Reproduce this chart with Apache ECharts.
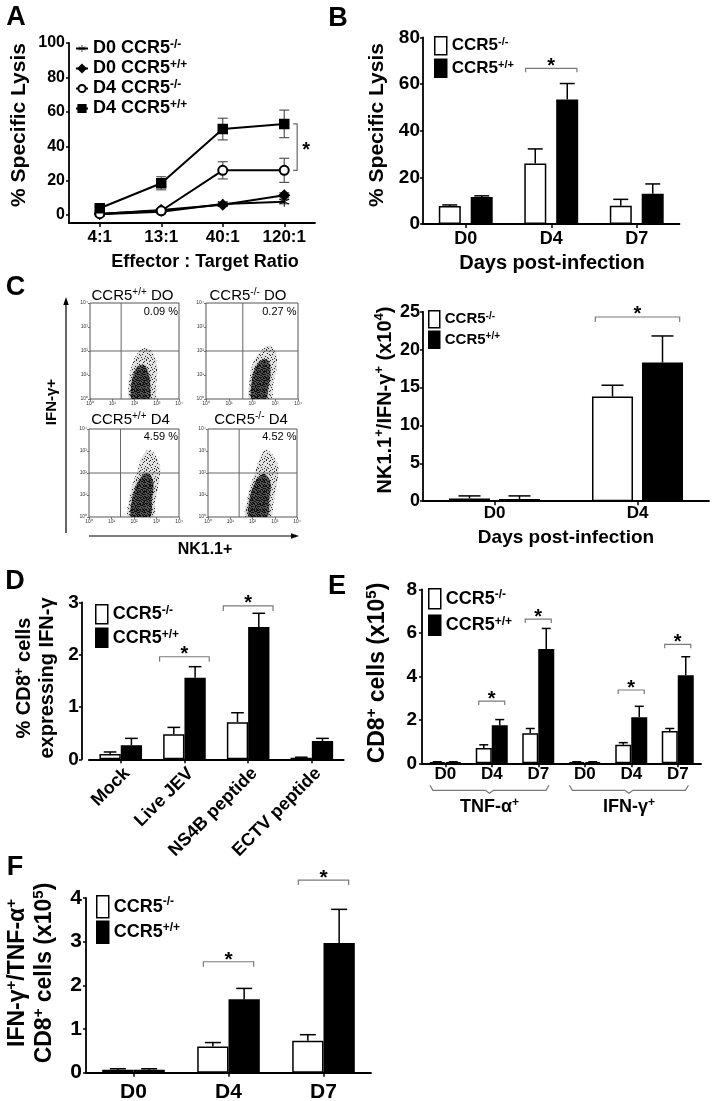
<!DOCTYPE html>
<html><head><meta charset="utf-8">
<script src="https://cdn.jsdelivr.net/npm/echarts@6/dist/echarts.min.js"></script>
<style>html,body{margin:0;padding:0;background:#fff}#c{width:712px;height:1101px}</style>
</head><body><div id="c"></div>
<script>
const FONT = "'Liberation Sans', Arial, Helvetica, sans-serif";

// ---------------- Panel A ----------------
const ratioCats = ['4:1', '13:1', '40:1', '120:1'];
const aNames = ['D0 CCR5^{-/-}', 'D0 CCR5^{+/+}', 'D4 CCR5^{-/-}', 'D4 CCR5^{+/+}'];
const aD0KO = [0.5, 2.0, 6.5, 7.8];
const aD0KOErr = [0.3, 0.6, 1.0, 1.2];
const aD0WT = [0.6, 3.0, 6.0, 11.5];
const aD0WTErr = [0.3, 0.8, 1.0, 1.5];
const aD4KO = [0.8, 2.5, 26.0, 26.0];
const aD4KOErr = [0.5, 1.0, 5.0, 7.0];
const aD4WT = [4.0, 18.5, 50.0, 53.0];
const aD4WTErr = [1.5, 3.8, 6.3, 8.0];
const aYTicks = [0, 20, 40, 60, 80, 100];
const aSig = [[3, 26, 53]];

// ---------------- Panel B ----------------
const dayCatsB = ['D0', 'D4', 'D7'];
const bKO = [7.8, 26.0, 7.9];
const bKOErr = [0.4, 6.2, 2.7];
const bWT = [11.6, 53.4, 13.0];
const bWTErr = [0.5, 6.8, 4.2];
const bSig = [[1, 66.7]];

// ---------------- Panel C (flow) ----------------
const flowTitles = ['CCR5^{+/+} DO', 'CCR5^{-/-} DO', 'CCR5^{+/+} D4', 'CCR5^{-/-} D4'];
const flowPct = ['0.09 %', '0.27 %', '4.59 %', '4.52 %'];
const flowGateX = [1.4, 1.6, 1.4, 1.4];
const flowGateY = [2, 2, 2, 2];
const flowOuter = [
  [[1.8,0],[1.72,0.5],[1.78,1.0],[1.9,1.45],[2.1,1.85],[2.4,2.12],[2.7,2.05],[2.95,1.7],[3.02,1.2],[2.97,0.6],[2.9,0]],
  [[1.9,0],[1.88,0.6],[1.95,1.2],[2.15,1.7],[2.5,2.1],[2.8,2.22],[3.05,1.9],[3.07,1.3],[2.92,0.6],[2.82,0]],
  [[1.75,0],[1.78,0.8],[1.95,1.5],[2.15,2.1],[2.35,2.7],[2.6,3.05],[2.9,2.9],[3.15,2.3],[3.1,1.5],[2.95,0.7],[2.85,0]],
  [[1.7,0],[1.75,0.7],[1.9,1.4],[2.1,2.0],[2.3,2.6],[2.55,3.05],[2.85,2.9],[3.15,2.3],[3.1,1.5],[2.95,0.7],[2.8,0]]
];
const flowCore = [
  [[1.9,0],[1.85,0.5],[1.95,1.0],[2.15,1.35],[2.45,1.4],[2.65,1.0],[2.7,0.5],[2.65,0]],
  [[2.0,0],[1.98,0.6],[2.1,1.2],[2.4,1.6],[2.7,1.6],[2.8,1.1],[2.7,0.4],[2.6,0]],
  [[1.9,0],[1.9,0.7],[2.05,1.3],[2.3,1.8],[2.6,2.0],[2.85,1.6],[2.8,0.8],[2.7,0]],
  [[1.85,0],[1.85,0.7],[2.0,1.3],[2.25,1.8],[2.55,1.95],[2.8,1.55],[2.75,0.8],[2.65,0]]
];

// ---------------- Panel C (bars) ----------------
const dayCatsC = ['D0', 'D4'];
const cKO = [0.35, 13.8];
const cKOErr = [0.35, 1.5];
const cWT = [0.3, 18.3];
const cWTErr = [0.4, 3.5];
const cSig = [[1, 24.3]];

// ---------------- Panel D ----------------
const stimCats = ['Mock', 'Live JEV', 'NS4B peptide', 'ECTV peptide'];
const dKO = [0.10, 0.48, 0.71, 0.03];
const dKOErr = [0.04, 0.13, 0.18, 0.01];
const dWT = [0.27, 1.56, 2.53, 0.35];
const dWTErr = [0.13, 0.21, 0.26, 0.05];
const dSig = [[1, 1.96], [2, 2.93]];

// ---------------- Panel E ----------------
const eCats = ['D0', 'D4', 'D7', 'D0', 'D4', 'D7'];
const eGroups = [['TNF-α^{+}', 0, 2], ['IFN-γ^{+}', 3, 5]];
const eKO = [0.05, 0.70, 1.38, 0.05, 0.85, 1.48];
const eKOErr = [0.02, 0.15, 0.22, 0.02, 0.10, 0.12];
const eWT = [0.05, 1.75, 5.25, 0.05, 2.12, 4.05];
const eWTErr = [0.02, 0.26, 0.95, 0.02, 0.50, 0.85];
const eSig = [[1, 2.86], [2, 6.63], [4, 3.37], [5, 5.47]];

// ---------------- Panel F ----------------
const fCats = ['D0', 'D4', 'D7'];
const fKO = [0.07, 0.60, 0.73];
const fKOErr = [0.02, 0.09, 0.14];
const fWT = [0.07, 1.68, 2.97];
const fWTErr = [0.02, 0.25, 0.77];
const fSig = [[1, 2.54], [2, 4.41]];

const KO = 'CCR5^{-/-}', WT = 'CCR5^{+/+}';

// ---------------- helpers ----------------
function rt(str) {
  return str.split('\n').map(line =>
    line.split(/(\^\{[^}]*\})/).filter(p => p.length).map(p =>
      p.startsWith('^{') ? '{s|' + p.slice(2, -1) + '}' : '{b|' + p + '}').join('')
  ).join('\n');
}
function richSet(size, weight, lh) {
  weight = weight || 'bold';
  const s = Math.round(size * 0.64);
  return {
    b: {fontSize: size, fontWeight: weight, fontFamily: FONT, color: '#000', fill: '#000', lineHeight: lh || Math.round(size * 1.2), verticalAlign: 'middle'},
    s: {fontSize: s, fontWeight: weight, fontFamily: FONT, color: '#000', fill: '#000', lineHeight: s, verticalAlign: 'top'}
  };
}
const SUPD = ['⁰', '¹', '²', '³', '⁴'];

// deterministic speckle textures for the flow-cytometry clouds
function speckle(color, pts, size) {
  const c = document.createElement('canvas');
  c.width = c.height = size;
  const ctx = c.getContext('2d');
  ctx.fillStyle = color;
  pts.forEach(p => ctx.fillRect(p[0], p[1], 1, 1));
  return {image: c, repeat: 'repeat'};
}
const SPK_LIGHT = speckle('#222', [[0,0],[4,1],[7,3],[2,4],[5,6],[1,7],[6,0],[3,2],[8,8],[0,5],[7,7],[4,8],[2,9],[9,4],[6,9],[9,1]], 10);
const SPK_DENSE = speckle('#000', [[0,0],[2,0],[4,1],[1,2],[3,3],[5,2],[0,4],[2,5],[4,4],[5,5],[1,5],[3,1],[5,0],[0,2]], 6);

function errSeries(gi, vals, errs, offsetPx, capW, both, color, lw) {
  return {
    type: 'custom', xAxisIndex: gi, yAxisIndex: gi, z: both ? 1 : 5, silent: true, clip: false,
    data: vals.map((v, i) => [i, v, errs[i]]),
    encode: {x: 0, y: 1},
    renderItem(params, api) {
      const i = api.value(0), v = api.value(1), e = api.value(2);
      const p = api.coord([i, v]);
      const top = api.coord([i, v + e]);
      const x = p[0] + offsetPx;
      const st = {stroke: color, lineWidth: lw};
      const ch = [
        {type: 'line', shape: {x1: x, y1: p[1], x2: x, y2: top[1]}, style: st},
        {type: 'line', shape: {x1: x - capW / 2, y1: top[1], x2: x + capW / 2, y2: top[1]}, style: st}
      ];
      if (both) {
        const bot = api.coord([i, v - e]);
        ch.push({type: 'line', shape: {x1: x, y1: p[1], x2: x, y2: bot[1]}, style: st});
        ch.push({type: 'line', shape: {x1: x - capW / 2, y1: bot[1], x2: x + capW / 2, y2: bot[1]}, style: st});
      }
      return {type: 'group', children: ch};
    }
  };
}
function starText(x, y, size) {
  return {type: 'text', x: x, y: y, style: {text: '*', fontSize: size, fontWeight: 'bold', fontFamily: FONT, fill: '#000',
    align: 'center', verticalAlign: 'middle', textAlign: 'center', textVerticalAlign: 'middle'}};
}
function bracketSeries(gi, list, halfFrac, tick, starSize, starDy) {
  return {
    type: 'custom', xAxisIndex: gi, yAxisIndex: gi, z: 6, silent: true, clip: false,
    data: list, encode: {x: 0, y: 1},
    renderItem(params, api) {
      const i = api.value(0), v = api.value(1);
      const p = api.coord([i, v]);
      const bw = api.size([1, 0])[0];
      const x1 = p[0] - halfFrac * bw, x2 = p[0] + halfFrac * bw, y = p[1];
      return {type: 'group', children: [
        {type: 'polyline', shape: {points: [[x1, y + tick], [x1, y], [x2, y], [x2, y + tick]]}, style: {stroke: '#7a7a7a', lineWidth: 1.2, fill: null}},
        starText((x1 + x2) / 2, y - starDy, starSize)
      ]};
    }
  };
}
function barPair(gi, ko, wt, barW, gap) {
  return [
    {type: 'bar', name: KO, xAxisIndex: gi, yAxisIndex: gi, data: ko, barWidth: barW, barGap: gap, z: 3,
      itemStyle: {color: '#fff', borderColor: '#000', borderWidth: 1.5}},
    {type: 'bar', name: WT, xAxisIndex: gi, yAxisIndex: gi, data: wt, barWidth: barW, barGap: gap, z: 3,
      itemStyle: {color: '#000', borderColor: '#000', borderWidth: 1.5}}
  ];
}
const AXL = {lineStyle: {color: '#000', width: 1.8}, onZero: false};
function catX(gi, cats, fs, margin, extra) {
  return Object.assign({
    type: 'category', gridIndex: gi, data: cats, boundaryGap: true,
    axisLine: AXL, axisTick: {show: true, alignWithLabel: true, length: 4, lineStyle: {color: '#000', width: 1.5}},
    axisLabel: {fontSize: fs, fontWeight: 'bold', fontFamily: FONT, color: '#000', margin: margin, interval: 0},
    splitLine: {show: false}
  }, extra || {});
}
function valY(gi, max, interval, fs, margin, extra) {
  return Object.assign({
    type: 'value', gridIndex: gi, min: 0, max: max, interval: interval,
    axisLine: {show: true, lineStyle: {color: '#000', width: 1.8}},
    axisTick: {show: true, length: 3, lineStyle: {color: '#000', width: 1.5}},
    axisLabel: {fontSize: fs, fontWeight: 'bold', fontFamily: FONT, color: '#000', margin: margin},
    splitLine: {show: false}
  }, extra || {});
}
function barLegend(left, top, w, h, gap, fs) {
  return {left: left, top: top, orient: 'vertical', padding: 0, data: [KO, WT], itemWidth: w, itemHeight: h, itemGap: gap,
    selectedMode: false, formatter: rt, textStyle: {rich: richSet(fs, 'bold', h)}, icon: 'rect',
    itemStyle: {borderColor: '#000', borderWidth: 1.5}};
}
function gtext(x, y, text, size, opts) {
  opts = opts || {};
  const rich = richSet(size, opts.weight || 'bold', opts.lh);
  return {type: 'text', x: x, y: y, rotation: opts.rot || 0, silent: true,
    style: {text: rt(text), rich: rich, fill: '#000', fontSize: size, fontWeight: opts.weight || 'bold', fontFamily: FONT,
      align: opts.align || 'center', verticalAlign: 'middle', textAlign: opts.align || 'center', textVerticalAlign: 'middle'}};
}

// ---------------- grids ----------------
const grids = [
  {left: 69, top: 43, width: 246, height: 180},          // 0 A
  {left: 423, top: 37.3, width: 256.5, height: 186.8},   // 1 B
  {left: 90, top: 303, width: 89, height: 96},           // 2 flow TL
  {left: 206, top: 303, width: 92, height: 96},          // 3 flow TR
  {left: 89, top: 429, width: 90, height: 88},           // 4 flow BL
  {left: 208, top: 429, width: 89, height: 88},          // 5 flow BR
  {left: 423, top: 311.7, width: 286, height: 189.5},    // 6 C bars
  {left: 88.9, top: 602.3, width: 254.8, height: 157},   // 7 D
  {left: 422, top: 589.3, width: 279, height: 174},      // 8 E
  {left: 86, top: 898, width: 285, height: 174.7}        // 9 F
].map((g, i) => Object.assign({containLabel: false, outerBoundsMode: 'none'}, g,
  (i >= 2 && i <= 5) ? {show: true, borderColor: '#555', borderWidth: 1, backgroundColor: 'transparent'} : {}));

const xAxes = [], yAxes = [];
// A
xAxes.push(catX(0, ratioCats, 17, 6));
yAxes.push(valY(0, 100, null, 16, 4, {min: -4.6, interval: null,
  axisLabel: {customValues: aYTicks, fontSize: 16, fontWeight: 'bold', fontFamily: FONT, color: '#000', margin: 4},
  axisTick: {customValues: aYTicks, show: true, length: 3, lineStyle: {color: '#000', width: 1.5}}}));
// B
xAxes.push(catX(1, dayCatsB, 18, 6));
yAxes.push(valY(1, 80, 20, 19, 3));
// flow
for (let k = 0; k < 4; k++) {
  const flowAxis = (gi) => ({
    type: 'value', gridIndex: gi, min: 0, max: 4, interval: 1,
    axisLine: {show: false}, splitLine: {show: false},
    axisTick: {show: true, length: 2, lineStyle: {color: '#555', width: 0.8}},
    axisLabel: {fontSize: 5, color: '#333', fontFamily: FONT, margin: 2, formatter: v => '10' + SUPD[v]}
  });
  xAxes.push(flowAxis(2 + k));
  yAxes.push(flowAxis(2 + k));
}
// C bars
xAxes.push(catX(6, dayCatsC, 17, 4));
yAxes.push(valY(6, 25, 5, 18, 3));
// D
xAxes.push(catX(7, stimCats, 18, 5, {axisLabel: {fontSize: 18, fontWeight: 'bold', fontFamily: FONT, color: '#000', margin: 5, rotate: 45, interval: 0, verticalAlign: 'top'}}));
yAxes.push(valY(7, 3, 1, 19, 3, {offset: 7}));
// E
xAxes.push(catX(8, eCats, 17, 3));
yAxes.push(valY(8, 8, 2, 19, 5));
// F
xAxes.push(catX(9, fCats, 21, 9));
yAxes.push(valY(9, 4, 1, 21, 4));

// ---------------- series ----------------
const series = [];
const ASTER = 'path://M-0.45,-5L0.45,-5L0.45,5L-0.45,5Z M4.105,2.89L-4.555,-2.11L-4.105,-2.89L4.555,2.11Z M-4.555,2.11L4.105,-2.89L4.555,-2.11L-4.105,2.89Z';
const aSeriesDefs = [
  [aNames[0], aD0KO, aD0KOErr, ASTER, 10],
  [aNames[1], aD0WT, aD0WTErr, 'diamond', 10],
  [aNames[2], aD4KO, aD4KOErr, 'emptyCircle', 9],
  [aNames[3], aD4WT, aD4WTErr, 'rect', 9]
];
aSeriesDefs.forEach((d, idx) => {
  series.push({type: 'line', name: d[0], xAxisIndex: 0, yAxisIndex: 0, data: d[1], symbol: d[3], symbolSize: d[4],
    showAllSymbol: true, z: 3, lineStyle: {color: '#000', width: 2},
    itemStyle: {color: '#000', borderColor: '#000', borderWidth: idx === 0 ? 0 : 1.5}});
  series.push(errSeries(0, d[1], d[2], 0, 10, true, '#555', 1.2));
});
series.push({
  type: 'custom', xAxisIndex: 0, yAxisIndex: 0, z: 6, silent: true, clip: false,
  data: aSig, encode: {x: 0, y: [1, 2]},
  renderItem(params, api) {
    const i = api.value(0);
    const bw = api.size([1, 0])[0];
    const lo = api.coord([i, api.value(1)]), hi = api.coord([i, api.value(2)]);
    const x = lo[0] + 0.21 * bw;
    return {type: 'group', children: [
      {type: 'polyline', shape: {points: [[x - 4, hi[1]], [x, hi[1]], [x, lo[1]], [x - 4, lo[1]]]}, style: {stroke: '#666', lineWidth: 1.2, fill: null}},
      starText(x + 9, (hi[1] + lo[1]) / 2 + 3, 20)
    ]};
  }
});
// B
series.push(...barPair(1, bKO, bWT, 22, '45%'));
series.push(errSeries(1, bKO, bKOErr, -16, 15, false, '#000', 1.5));
series.push(errSeries(1, bWT, bWTErr, 16, 15, false, '#000', 1.5));
series.push(bracketSeries(1, bSig, 0.30, 4, 20, 2));
// flow
for (let k = 0; k < 4; k++) {
  series.push({
    type: 'custom', xAxisIndex: 2 + k, yAxisIndex: 2 + k, silent: true, clip: true,
    data: [[flowGateX[k], flowGateY[k]]], encode: {x: 0, y: 1},
    renderItem(params, api) {
      const outer = flowOuter[k].map(p => api.coord(p));
      const core = flowCore[k].map(p => api.coord(p));
      const gx = api.value(0), gy = api.value(1);
      const v1 = api.coord([gx, 0]), v2 = api.coord([gx, 4]);
      const h1 = api.coord([0, gy]), h2 = api.coord([4, gy]);
      return {type: 'group', children: [
        {type: 'polygon', shape: {points: outer, smooth: 0.35}, style: {fill: SPK_LIGHT}},
        {type: 'polygon', shape: {points: outer, smooth: 0.35}, style: {fill: 'rgba(90,90,90,0.18)'}},
        {type: 'polygon', shape: {points: core, smooth: 0.35}, style: {fill: SPK_DENSE}},
        {type: 'polygon', shape: {points: core, smooth: 0.35}, style: {fill: 'rgba(20,20,20,0.55)', shadowBlur: 3, shadowColor: 'rgba(0,0,0,0.5)'}},
        {type: 'line', shape: {x1: v1[0], y1: v1[1], x2: v2[0], y2: v2[1]}, style: {stroke: '#666', lineWidth: 1}},
        {type: 'line', shape: {x1: h1[0], y1: h1[1], x2: h2[0], y2: h2[1]}, style: {stroke: '#666', lineWidth: 1}}
      ]};
    }
  });
}
// C bars
series.push(...barPair(6, cKO, cWT, 41, '22%'));
series.push(errSeries(6, cKO, cKOErr, -25, 22, false, '#000', 1.5));
series.push(errSeries(6, cWT, cWTErr, 25, 22, false, '#000', 1.5));
series.push(bracketSeries(6, cSig, 0.295, 5, 20, 3));
// D
series.push(...barPair(7, dKO, dWT, 21.3, '0%'));
series.push(errSeries(7, dKO, dKOErr, -10.65, 12.7, false, '#000', 1.5));
series.push(errSeries(7, dWT, dWTErr, 10.65, 12.7, false, '#000', 1.5));
series.push(bracketSeries(7, dSig, 0.39, 5, 20, 2));
// E
series.push(...barPair(8, eKO, eWT, 16, '0%'));
series.push(errSeries(8, eKO, eKOErr, -8, 9, false, '#000', 1.5));
series.push(errSeries(8, eWT, eWTErr, 8, 9, false, '#000', 1.5));
series.push(bracketSeries(8, eSig, 0.28, 4, 20, 2));
series.push({
  type: 'custom', xAxisIndex: 8, yAxisIndex: 8, silent: true, clip: false, z: 6,
  data: eGroups.map(g => [g[1], g[2]]), encode: {x: 0},
  renderItem(params, api) {
    const a = api.value(0), b = api.value(1);
    const bw = api.size([1, 0])[0];
    const pa = api.coord([a, 0]), pb = api.coord([b, 0]);
    const x1 = pa[0] - 0.33 * bw, x2 = pb[0] + 0.23 * bw, yb = pa[1] + 27, xm = (x1 + x2) / 2;
    return {type: 'group', children: [
      {type: 'polyline', shape: {points: [[x1, yb - 5], [x1 + 3, yb], [xm - 4, yb], [xm, yb + 3], [xm + 4, yb], [x2 - 3, yb], [x2, yb - 5]]},
        style: {stroke: '#777', lineWidth: 1.2, fill: null}},
      gtext(xm, yb + 17, eGroups[params.dataIndex][0], 18)
    ]};
  }
});
// F
series.push(...barPair(9, fKO, fWT, 31.3, '0%'));
series.push(errSeries(9, fKO, fKOErr, -15.65, 16, false, '#000', 1.5));
series.push(errSeries(9, fWT, fWTErr, 15.65, 16, false, '#000', 1.5));
series.push(bracketSeries(9, fSig, 0.265, 5, 21, 2));

// ---------------- legends ----------------
const legends = [
  {left: 75, top: 39, orient: 'vertical', padding: 0, data: aNames, itemWidth: 12, itemHeight: 9, itemGap: 1.5,
    selectedMode: false, formatter: rt, textStyle: {rich: richSet(18, 'bold', 19)}},
  barLegend(434, 36, 12, 18, 3, 17),
  barLegend(428, 310, 11, 17, 2, 15),
  barLegend(95, 604, 12, 19, 3, 18),
  barLegend(428, 588, 12, 20, 5, 18),
  barLegend(96, 895, 12, 22, 2, 18)
];

// ---------------- free text / decorations ----------------
const graphic = [
  gtext(16, 18, 'A', 27), gtext(338, 19, 'B', 27), gtext(15.5, 288, 'C', 27),
  gtext(15, 582, 'D', 27), gtext(337, 587, 'E', 27), gtext(15, 868, 'F', 27),
  gtext(19.5, 125, '% Specific Lysis', 21, {rot: Math.PI / 2}),
  gtext(205, 262, 'Effector : Target Ratio', 18),
  gtext(377.5, 125, '% Specific Lysis', 21, {rot: Math.PI / 2}),
  gtext(552, 263, 'Days post-infection', 20),
  gtext(52, 402, 'IFN-γ+', 15, {rot: Math.PI / 2}),
  gtext(205, 550, 'NK1.1+', 16),
  gtext(385, 400, 'NK1.1^{+}/IFN-γ^{+} (x10^{4})', 20, {rot: Math.PI / 2}),
  gtext(566, 538, 'Days post-infection', 19),
  gtext(36, 678, '% CD8^{+} cells\nexpressing IFN-γ', 20, {rot: Math.PI / 2, lh: 23}),
  gtext(378, 673, 'CD8^{+} cells (x10^{5})', 23, {rot: Math.PI / 2}),
  gtext(31, 973, 'IFN-γ^{+}/TNF-α^{+}\nCD8^{+} cells (x10^{5})', 23, {rot: Math.PI / 2, lh: 27}),
  {type: 'polyline', silent: true, shape: {points: [[66, 533], [66, 303]]}, style: {stroke: '#000', lineWidth: 1.2, fill: null}},
  {type: 'polygon', silent: true, shape: {points: [[66, 297], [63.3, 305], [68.7, 305]]}, style: {fill: '#000'}},
  {type: 'polyline', silent: true, shape: {points: [[89, 536], [293, 536]]}, style: {stroke: '#000', lineWidth: 1.2, fill: null}},
  {type: 'polygon', silent: true, shape: {points: [[299, 536], [291, 533.3], [291, 538.7]]}, style: {fill: '#000'}}
];
const flowTitlePos = [[132.5, 296], [248, 296], [130.5, 420], [251, 420]];
const flowPctPos = [[178, 311.5], [296.5, 311.5], [178, 436.5], [296.5, 436.5]];
for (let k = 0; k < 4; k++) {
  graphic.push(gtext(flowTitlePos[k][0], flowTitlePos[k][1], flowTitles[k], 15, {weight: 'normal'}));
  graphic.push(gtext(flowPctPos[k][0], flowPctPos[k][1], flowPct[k], 11, {weight: 'normal', align: 'right'}));
}

const chart = echarts.init(document.getElementById('c'), null, {renderer: 'canvas'});
chart.setOption({
  backgroundColor: '#fff',
  animation: false,
  grid: grids,
  xAxis: xAxes,
  yAxis: yAxes,
  legend: legends,
  series: series,
  graphic: graphic
});
</script></body></html>
